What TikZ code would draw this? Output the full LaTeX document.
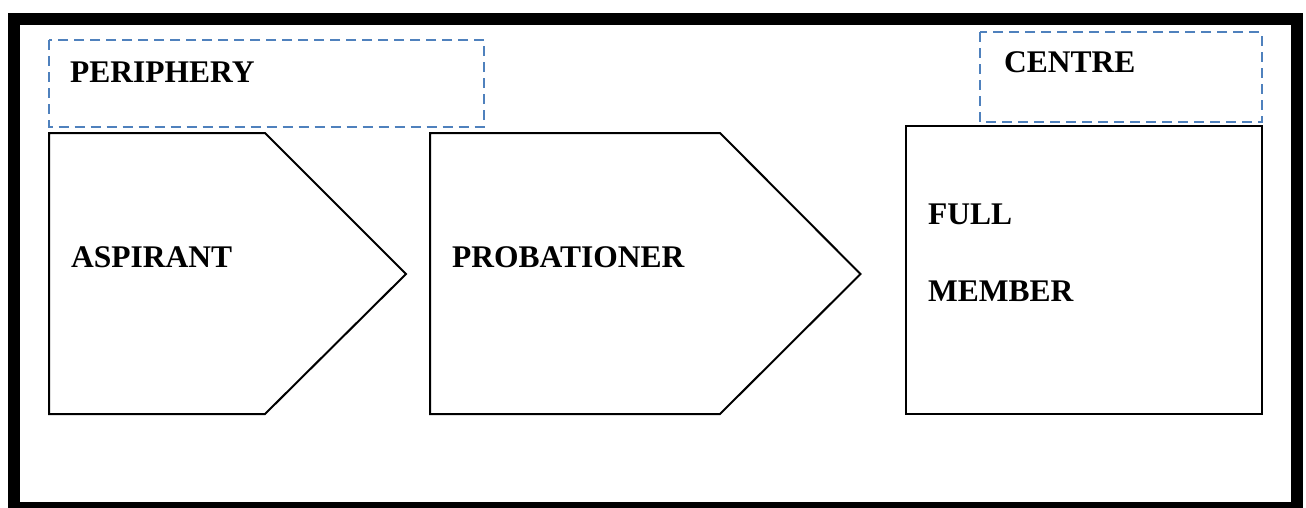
\documentclass[tikz,border=0pt]{standalone}
\usepackage{fontspec}
\setmainfont{Liberation Serif}
\definecolor{zoneblue}{HTML}{4F81BD}
\tikzset{
  frame/.style={line width=12pt, draw=black},
  zone/.style={draw=zoneblue, line width=2pt, dash pattern=on 10pt off 6pt},
  stage/.style={draw=black, line width=2pt, line join=miter},
  label/.style={anchor=base west, inner sep=0pt, font=\fontsize{31.5}{36}\selectfont\bfseries}
}
\begin{document}
\begin{tikzpicture}[x=1pt, y=-1pt]
  \useasboundingbox (0,0) rectangle (1306,507);
  \clip (0,0) rectangle (1306,507);
  \fill[white] (0,0) rectangle (1306,507);

  % outer frame
  \draw[frame] (14,19) rectangle (1296.5,508);

  % zone boxes
  \draw[zone] (49,40) rectangle (484,126.5);
  \draw[zone] (980,32) rectangle (1261.5,122);

  % stages
  \draw[stage] (49,133) -- (265,133) -- (406,274) -- (265,414) -- (49,414) -- cycle;
  \draw[stage] (430,133) -- (720,133) -- (860.5,274) -- (720,414) -- (430,414) -- cycle;
  \draw[stage] (906,126) rectangle (1261.5,414);

  % labels
  \node[label] (periphery) at (70,82) {PERIPHERY};
  \node[label] (centre) at (1004,72) {CENTRE};
  \node[label] (aspirant) at (71,267) {ASPIRANT};
  \node[label] (probationer) at (452,267) {PROBATIONER};
  \node[label] (full) at (928,224) {FULL};
  \node[label] (member) at (928,301) {MEMBER};
\end{tikzpicture}
\end{document}
